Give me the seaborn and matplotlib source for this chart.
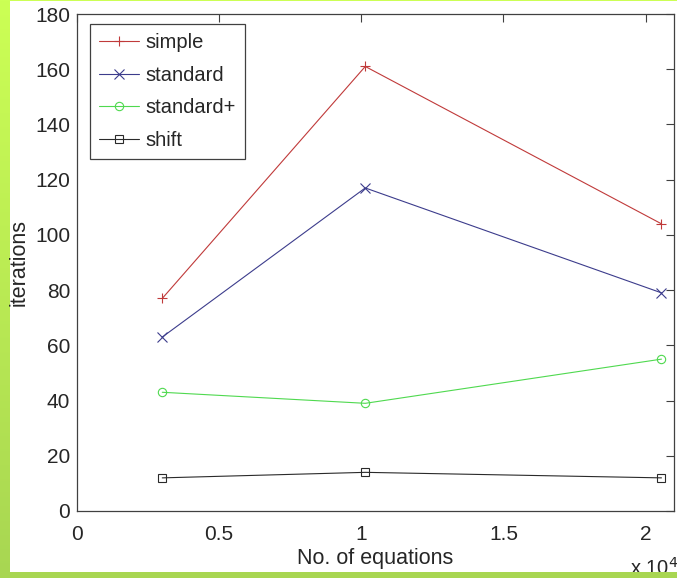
import numpy as np
import pandas as pd
import matplotlib
matplotlib.use('Agg')
import matplotlib.pyplot as plt
import seaborn as sns
from matplotlib.ticker import FuncFormatter
from matplotlib.patches import Rectangle

# data
equations = [3000, 10140, 20560]
simple = [77, 161, 104]
standard = [63, 117, 79]
standard_plus = [43, 39, 55]
shift = [12, 14, 12]

series_names = ['simple', 'standard', 'standard+', 'shift']
series_values = [simple, standard, standard_plus, shift]
series_colors = ['#c03a3a', '#3c3c8c', '#4fd94f', '#2a2a2a']
series_markers = ['+', 'x', 'o', 's']

sns.set_style('white')
plt.rcParams['font.family'] = ['Liberation Sans', 'DejaVu Sans']
plt.rcParams['font.size'] = 15

W, H = 677, 578
fig = plt.figure(figsize=(W / 100, H / 100), dpi=100)

# green frame with a slight gradient behind a white page
bg = fig.add_axes([0, 0, 1, 1], zorder=-10)
grad = np.linspace(0, 1, 256).reshape(-1, 1)
cmap = matplotlib.colors.LinearSegmentedColormap.from_list('g', ['#ccff55', '#a8d652'])
bg.imshow(grad, aspect='auto', cmap=cmap, extent=[0, 1, 0, 1], origin='upper')
bg.add_patch(Rectangle((10 / W, 6 / H), 1, 1 - 7 / H, color='white', lw=0))
bg.set_xlim(0, 1)
bg.set_ylim(0, 1)
bg.axis('off')

ax = fig.add_axes([77 / W, (H - 511) / H, (674 - 77) / W, (511 - 14) / H])
ax.set_facecolor('white')

for name, vals, col, mk in zip(series_names, series_values, series_colors, series_markers):
    df = pd.DataFrame({'n': equations, 'it': vals})
    kw = dict(markerfacecolor='none') if mk in ('o', 's') else {}
    ms = 6 if mk in ('o', 's') else 7
    sns.lineplot(data=df, x='n', y='it', ax=ax, color=col, marker=mk, markersize=ms,
                 markeredgecolor=col, markeredgewidth=0.8, linewidth=0.8, label=name, **kw)

ax.set_xlim(0, 21000)
ax.set_ylim(0, 180)
ax.set_xticks([0, 5000, 10000, 15000, 20000])
ax.set_yticks(range(0, 181, 20))
ax.xaxis.set_major_formatter(FuncFormatter(lambda v, p: '%g' % (v / 1e4)))
ax.tick_params(direction='in', length=6, width=0.8, color='#404040',
               top=True, right=True, labelsize=15)
ax.tick_params(axis='x', pad=10)
ax.tick_params(axis='y', pad=5)
for s in ax.spines.values():
    s.set_color('#404040')
    s.set_linewidth(0.9)

ax.set_xlabel('No. of equations', fontsize=15.5, labelpad=3)
ax.set_ylabel('iterations', fontsize=15.5, labelpad=4)

leg = ax.legend(loc='upper left', bbox_to_anchor=(13 / 597, 1 - 10 / 497),
                borderaxespad=0, frameon=True, fancybox=False, framealpha=1,
                handlelength=2.0, handletextpad=0.3, labelspacing=0.68,
                fontsize=14.5, borderpad=0.45)
leg.get_frame().set_edgecolor('#404040')
leg.get_frame().set_linewidth(0.9)

# exponent label, partly hidden by the green frame as in the original
fig.text(630 / W, -1 / H, r'x 10$^4$', fontsize=14.5, va='bottom', ha='left')
fig.add_artist(Rectangle((10 / W, 0), 1, 6 / H, color='#a8d652', lw=0, zorder=20,
                         transform=fig.transFigure))

fig.savefig('out.png', dpi=100)
